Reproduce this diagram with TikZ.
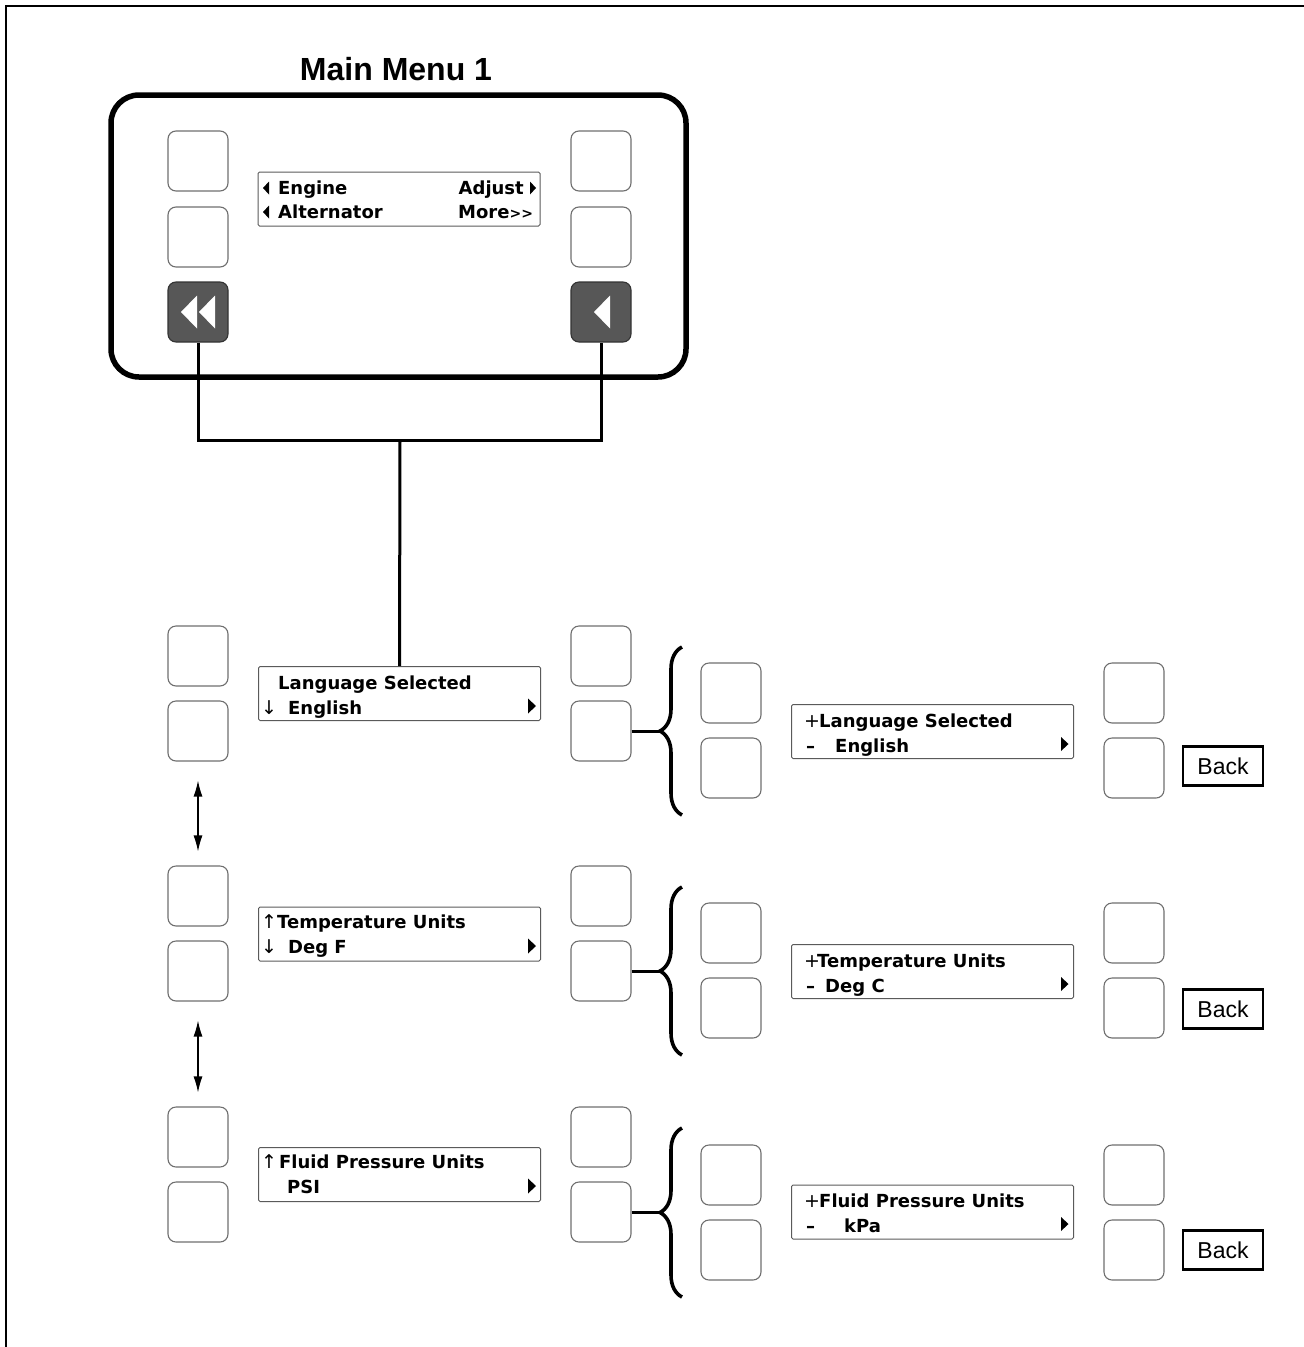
\documentclass[tikz,border=0pt]{standalone}
\usepackage{fontspec}
\usepackage{tikz}
\usetikzlibrary{arrows.meta,decorations.pathreplacing,calc}
\newfontfamily\lcdfont{DejaVu Sans}
\newfontfamily\labelfont{Liberation Sans}
\definecolor{keyL}{HTML}{6E6E6E}
\definecolor{keyF}{HTML}{575757}
\definecolor{lcdL}{HTML}{5A5A5A}
\newcommand{\tri}[5][black]{\fill[#1] ({#2},{#3-#5}) -- ({#2+(#4)},{#3}) -- ({#2},{#3+#5}) -- cycle;}

\begin{document}
\begin{tikzpicture}[x=1pt,y=-1pt,
  key/.style={draw=keyL,line width=1.1pt,rounded corners=8pt,minimum width=60pt,
    minimum height=60pt,inner sep=0pt},
  darkkey/.style={key,draw=black!80,fill=keyF},
  lcd/.style={draw=lcdL,line width=1pt,rounded corners=1.5pt,minimum width=282pt,
    minimum height=54pt,inner sep=0pt},
  lt/.style={font=\lcdfont\bfseries\fontsize{18}{20}\selectfont,anchor=base west,inner sep=0pt},
  ls/.style={font=\lcdfont\fontsize{19}{21}\selectfont,anchor=base west,inner sep=0pt},
  link/.style={line width=3pt},
  curly/.style={line width=3.6pt,decorate,decoration={brace,amplitude=22pt}},
  updown/.style={{Latex[length=16pt,width=9pt]}-{Latex[length=16pt,width=9pt]},line width=1.2pt},
  backbox/.style={draw,line width=2.6pt,minimum width=80pt,minimum height=39pt,inner sep=0pt,
    font=\labelfont\fontsize{23}{26}\selectfont}]

  \useasboundingbox (0,0) rectangle (1304,1347);
  \draw[line width=1.5pt] (6,1347) -- (6,6) -- (1304,6);

  % main menu panel
  \node[font=\labelfont\bfseries\fontsize{32}{36}\selectfont,anchor=base] (title) at (396,80) {Main Menu 1};
  \draw[line width=5.5pt,rounded corners=28pt] (111,95) rectangle (686,377);

  \node[key] (mL1) at (198,161) {};
  \node[key] (mL2) at (198,237) {};
  \node[darkkey] (mL3) at (198,312) {};
  \node[key] (mR1) at (601,161) {};
  \node[key] (mR2) at (601,237) {};
  \node[darkkey] (mR3) at (601,312) {};
  \tri[white]{197}{312}{-16}{16.5}
  \tri[white]{215}{312}{-16}{16.5}
  \tri[white]{610}{312}{-16}{16.5}

  \node[lcd] (main) at (399,199) {};
  \node[lt] (mEng) at (278,194) {Engine};
  \node[lt] (mAlt) at (278,218) {Alternator};
  \node[lt,anchor=base east] (mAdj) at (524,194) {Adjust};
  \node[lt] (mMore) at (458,218) {More{\fontsize{14}{14}\selectfont>>}};
  \tri{269}{188}{-6}{6.5}
  \tri{269}{212}{-6}{6.5}
  \tri{530}{188}{6}{6.5}

  % row a: language
  \node[key] (aL1) at (198,656) {};
  \node[key] (aL2) at (198,731) {};
  \node[key] (aR1) at (601,656) {};
  \node[key] (aR2) at (601,731) {};
  \node[lcd] (aD) at (399.5,693.5) {};
  \node[lt] (aT1) at (278,689) {Language Selected};
  \node[ls] (aA2) at (261,714) {↓};
  \node[lt] (aT2) at (288,714) {English};
  \tri{528}{706}{8}{7.5}
  \draw[curly] (682,815) -- (682,647);
  \coordinate (aTip) at (660,731);
  \draw[link] (aR2.east) -- (aTip);
  \node[key] (aS1) at (731,693) {};
  \node[key] (aS2) at (731,768) {};
  \node[lcd] (aE) at (932.5,731.5) {};
  \node[ls] (aP) at (804,727) {+};
  \node[lt] (aU1) at (819,727) {Language Selected};
  \node[lt] (aM) at (806,752) {–};
  \node[lt] (aU2) at (835,752) {English};
  \tri{1061}{744}{7.5}{7}
  \node[key] (aK1) at (1134,693) {};
  \node[key] (aK2) at (1134,768) {};
  \node[backbox] (aBack) at (1223,766) {Back};

  % row b: temperature
  \node[key] (bL1) at (198,896) {};
  \node[key] (bL2) at (198,971) {};
  \node[key] (bR1) at (601,896) {};
  \node[key] (bR2) at (601,971) {};
  \node[lcd] (bD) at (399.5,934) {};
  \node[ls] (bA1) at (261,928) {↑};
  \node[lt] (bT1) at (277,928) {Temperature Units};
  \node[ls] (bA2) at (261,953) {↓};
  \node[lt] (bT2) at (288,953) {Deg F};
  \tri{528}{946}{8}{7.5}
  \draw[curly] (682,1055) -- (682,887);
  \coordinate (bTip) at (660,971);
  \draw[link] (bR2.east) -- (bTip);
  \node[key] (bS1) at (731,933) {};
  \node[key] (bS2) at (731,1008) {};
  \node[lcd] (bE) at (932.5,971.5) {};
  \node[ls] (bP) at (804,967) {+};
  \node[lt] (bU1) at (817,967) {Temperature Units};
  \node[lt] (bM) at (806,992) {–};
  \node[lt] (bU2) at (825,992) {Deg C};
  \tri{1061}{984}{7.5}{7}
  \node[key] (bK1) at (1134,933) {};
  \node[key] (bK2) at (1134,1008) {};
  \node[backbox] (bBack) at (1223,1009) {Back};

  % row c: fluid pressure
  \node[key] (cL1) at (198,1137) {};
  \node[key] (cL2) at (198,1212) {};
  \node[key] (cR1) at (601,1137) {};
  \node[key] (cR2) at (601,1212) {};
  \node[lcd] (cD) at (399.5,1174.5) {};
  \node[ls] (cA1) at (261,1168) {↑};
  \node[lt] (cT1) at (279,1168) {Fluid Pressure Units};
  \node[lt] (cT2) at (287,1193) {PSI};
  \tri{528}{1186}{8}{7.5}
  \draw[curly] (682,1297) -- (682,1128);
  \coordinate (cTip) at (660,1212);
  \draw[link] (cR2.east) -- (cTip);
  \node[key] (cS1) at (731,1175) {};
  \node[key] (cS2) at (731,1250) {};
  \node[lcd] (cE) at (932.5,1212) {};
  \node[ls] (cP) at (804,1207) {+};
  \node[lt] (cU1) at (819,1207) {Fluid Pressure Units};
  \node[lt] (cM) at (806,1232) {–};
  \node[lt] (cU2) at (844,1232) {kPa};
  \tri{1061}{1224}{7.5}{7}
  \node[key] (cK1) at (1134,1175) {};
  \node[key] (cK2) at (1134,1250) {};
  \node[backbox] (cBack) at (1223,1250) {Back};

  % connectors
  \coordinate (join) at (400,440);
  \draw[link] (mL3.south) |- (join) -| (mR3.south);
  \draw[link] (join) -- (aD.north);
  \draw[updown,shorten <=19pt,shorten >=14pt] (aL2.south) -- (bL1.north);
  \draw[updown,shorten <=19pt,shorten >=14pt] (bL2.south) -- (cL1.north);
\end{tikzpicture}
\end{document}
